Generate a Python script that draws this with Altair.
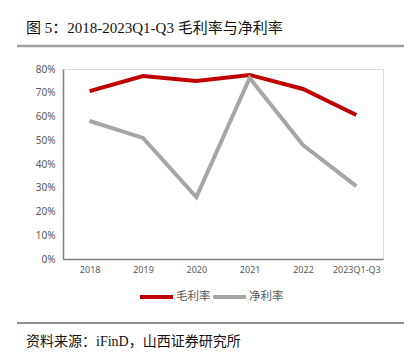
import altair as alt
import pandas as pd

years = ["2018", "2019", "2020", "2021", "2022", "2023Q1-Q3"]
gross_margin = [0.707, 0.770, 0.750, 0.775, 0.716, 0.606]
net_margin = [0.581, 0.510, 0.261, 0.762, 0.480, 0.307]
series_names = ["毛利率", "净利率"]
colors = ["#C00000", "#A6A6A6"]

title_text = "图 5：2018-2023Q1-Q3 毛利率与净利率"
source_text = "资料来源：iFinD，山西证券研究所"

rows = []
for i, y in enumerate(years):
    rows.append({"year": y, "series": series_names[0], "value": gross_margin[i]})
    rows.append({"year": y, "series": series_names[1], "value": net_margin[i]})
df = pd.DataFrame(rows)

font_cjk = "Liberation Serif, Noto Sans CJK SC"
font_axis = "Noto Sans, Noto Sans CJK SC"

W, H = 320, 190

lines = alt.Chart(df).mark_line(strokeWidth=4, clip=False).encode(
    x=alt.X("year:N", sort=years, title=None,
            scale=alt.Scale(paddingInner=0, paddingOuter=0.5),
            axis=alt.Axis(labelAngle=0, ticks=False, domainColor="#7f7f7f", domainWidth=1.5,
                          labelColor="#595959", labelFontSize=9, labelFont=font_axis, labelPadding=6)),
    y=alt.Y("value:Q", title=None,
            scale=alt.Scale(domain=[0, 0.8]),
            axis=alt.Axis(format=".0%", values=[0, .1, .2, .3, .4, .5, .6, .7, .8], grid=False, ticks=False,
                          domainColor="#7f7f7f", domainWidth=1.5, labelColor="#595959",
                          labelFontSize=10, labelFont=font_axis, labelPadding=8)),
    color=alt.Color("series:N", sort=series_names,
                    scale=alt.Scale(domain=series_names, range=colors), legend=None),
)

# manual legend (decoration)
legend_layers = []
legend_x = [77, 150]
for name, col, lx in zip(series_names, colors, legend_x):
    legend_layers.append(
        alt.Chart(pd.DataFrame({"a": [0]})).mark_rule(color=col, strokeWidth=4).encode(
            x=alt.value(lx), x2=alt.value(lx + 33), y=alt.value(228)))
    legend_layers.append(
        alt.Chart(pd.DataFrame({"t": [name]})).mark_text(
            align="left", baseline="middle", fontSize=11.5, font=font_axis, color="#595959"
        ).encode(text="t:N", x=alt.value(lx + 36), y=alt.value(228)))

title = alt.Chart(pd.DataFrame({"t": [title_text]})).mark_text(
    align="left", baseline="middle", fontSize=15, font=font_cjk, color="#111111", fontWeight="normal"
).encode(text="t:N", x=alt.value(-37), y=alt.value(-41))

source = alt.Chart(pd.DataFrame({"t": [source_text]})).mark_text(
    align="left", baseline="middle", fontSize=14, font=font_cjk, color="#111111"
).encode(text="t:N", x=alt.value(-37), y=alt.value(273))

top_rule = alt.Chart(pd.DataFrame({"a": [0]})).mark_rule(color="#A0A0A0", strokeWidth=2.5).encode(
    x=alt.value(-46), x2=alt.value(345), y=alt.value(-23))
bottom_rule = alt.Chart(pd.DataFrame({"a": [0]})).mark_rule(color="#222222", strokeWidth=1).encode(
    x=alt.value(-46), x2=alt.value(345), y=alt.value(254))

chart = alt.layer(lines, title, source, top_rule, bottom_rule, *legend_layers).properties(
    width=W, height=H,
    autosize=alt.AutoSizeParams(type="none"),
    padding={"left": 55, "top": 61, "right": 21, "bottom": 96},
).configure_view(stroke=None).configure(background="white")

chart.save("out.html", embed_options={"renderer": "svg", "actions": False})
